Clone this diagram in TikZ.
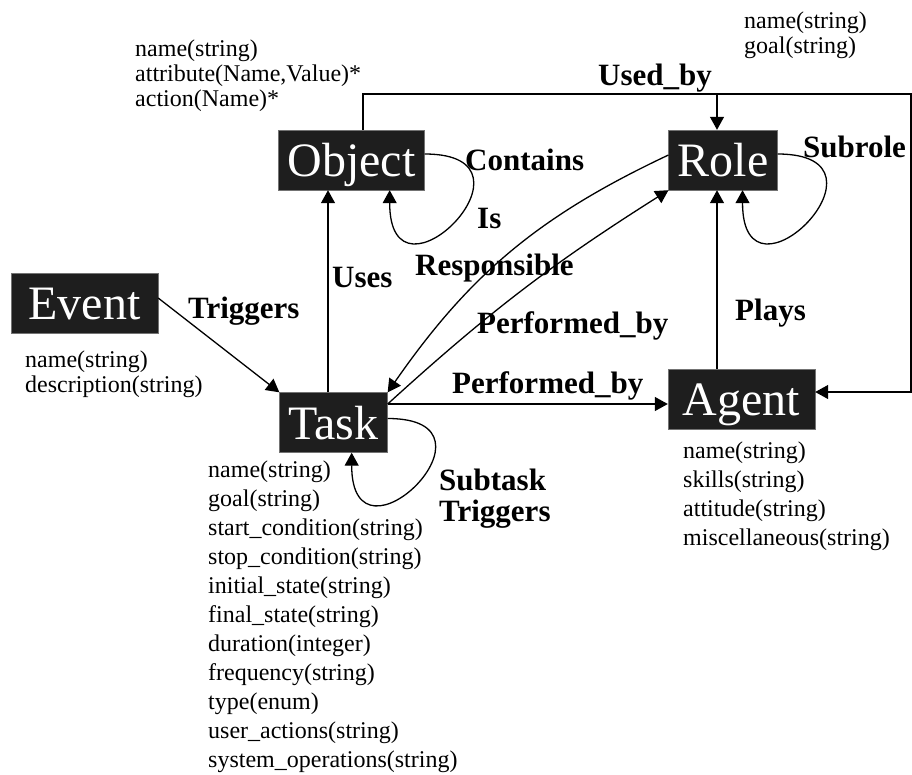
\documentclass[tikz,border=0pt]{standalone}
\usepackage{fontspec}
\setmainfont{Liberation Serif}
\usetikzlibrary{arrows.meta}

\definecolor{boxgray}{RGB}{30,30,30}

\tikzset{
  entity/.style={fill=boxgray, draw=black!55, text=white, font=\fontsize{48}{48}\selectfont,
    minimum height=60pt, text height=38pt, text depth=5pt, inner xsep=9pt, inner ysep=8.5pt},
  rel/.style={font=\fontsize{31}{31}\selectfont\bfseries, anchor=base west, inner sep=0pt},
  attr/.style={font=\fontsize{24}{29}\selectfont, align=left, anchor=north west, inner sep=0pt},
  attrtight/.style={attr, font=\fontsize{24}{25}\selectfont},
  arr/.style={-{Triangle[length=13pt,width=14pt]}, line width=1.3pt},
  loopto/.style={arr, out=0, in=-90, looseness=6.5}
}

\begin{document}
\begin{tikzpicture}[x=1pt, y=-1pt]
	\useasboundingbox (0,0) rectangle (912,774);
	
	% entities
	\node [entity] (object) at (351.5,160) {Object};
	\node [entity] (role) at (723,160) {Role};
	\node [entity, minimum width=147pt] (event) at (84.5,303) {Event};
	\node [entity] (task) at (333.5,422.5) {Task};
	\node [entity, minimum width=147pt] (agent) at (741.5,399) {Agent};
	
	% attributes
	\node [attrtight] (objattr) at (135,40) {name(string)\\attribute(Name,Value)*\\action(Name)*};
	\node [attrtight] (roleattr) at (744,12) {name(string)\\goal(string)};
	\node [attrtight] (eventattr) at (25,351) {name(string)\\description(string)};
	\node [attr] (agentattr) at (683,442) {name(string)\\skills(string)\\attitude(string)\\miscellaneous(string)};
	\node [attr] (taskattr) at (208,461) {name(string)\\goal(string)\\start\_condition(string)\\stop\_condition(string)\\initial\_state(string)\\final\_state(string)\\duration(integer)\\frequency(string)\\type(enum)\\user\_actions(string)\\system\_operations(string)};
	
	% connectors
	\coordinate (usedturn) at (911,94);
	\draw [arr] ([xshift=11.5pt]object.north) |- (usedturn) |- ([yshift=7pt]agent.east);
	\draw [arr] ([xshift=-6pt]role.north |- usedturn) -- ([xshift=-6pt]role.north);
	\draw [arr] ([xshift=-6pt]role.south |- agent.north) -- ([xshift=-6pt]role.south);
	\draw [arr] ([xshift=-5.5pt]task.north) -- ([xshift=-5.5pt]task.north |- object.south);
	\draw [arr] ([yshift=5pt]event.east) -- (task.north west);
	\draw [arr] ([yshift=5pt]role.west) to[bend right=15] (task.north east);
	\draw [arr] ([yshift=18.5pt]task.east) to[bend left=5] (role.south west);
	\draw [arr] ([yshift=18.5pt]task.east) -- ([yshift=18.5pt]task.east -| agent.west);
	\draw [loopto] ([yshift=6pt]object.east) to ([xshift=-35pt]object.south east);
	\draw [loopto] ([yshift=6pt]role.east) to ([xshift=-35pt]role.south east);
	\draw [loopto] ([yshift=4pt]task.east) to ([xshift=-36pt]task.south east);
	
	% relation labels
	\node [rel] (usedby) at (598,85) {Used\_by};
	\node [rel] (contains) at (465,170) {Contains};
	\node [rel] (is) at (477,228) {Is};
	\node [rel] (subrole) at (803,157) {Subrole};
	\node [rel] (triggers) at (188,318) {Triggers};
	\node [rel] (uses) at (332,287) {Uses};
	\node [rel] (responsible) at (415,275) {Responsible};
	\node [rel] (perfrole) at (477,333) {Performed\_by};
	\node [rel] (perfagent) at (452,393) {Performed\_by};
	\node [rel] (plays) at (735,320) {Plays};
	\node [rel] (subtask) at (439,490) {Subtask};
	\node [rel] (subtrig) at (439,521) {Triggers};
\end{tikzpicture}
\end{document}
